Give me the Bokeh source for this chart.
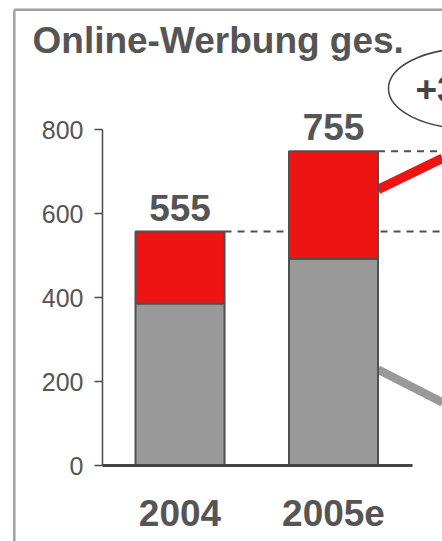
from bokeh.plotting import figure
from bokeh.models import Range1d, FixedTicker, ColumnDataSource
from bokeh.core.properties import value
from bokeh.embed import file_html
from bokeh.resources import INLINE

# ---- data -------------------------------------------------------------
categories = ["2004", "2005e"]
base_values = [386, 492]        # grey segment
growth_values = [171, 256]      # red segment
total_labels = ["555", "755"]
y_ticks = [0, 200, 400, 600, 800]
title_text = "Online-Werbung ges."
growth_text = "+36%"

# ---- layout constants -------------------------------------------------
W, H = 442, 541
LEFT, BOTTOM = 102, 76
FONT = "Liberation Sans"
DARK = "#555555"
RED = "#EE1414"
GREY = "#999999"
PX = 0.42   # pixels per data unit on the y scale

xs = list(range(len(categories)))
tops = [b + g for b, g in zip(base_values, growth_values)]
bar_w = 0.58

x_range = Range1d(-0.505, 1.71)
y_range = Range1d(0, (H - BOTTOM) / PX)

p = figure(width=W, height=H, x_range=x_range, y_range=y_range,
           output_backend="svg", toolbar_location=None,
           min_border_left=LEFT, min_border_right=0, min_border_top=0,
           min_border_bottom=BOTTOM)
p.background_fill_color = "white"
p.border_fill_color = "white"
p.outline_line_color = None
p.xgrid.visible = False
p.ygrid.visible = False

# frame around the panel (overlay level, so it is not clipped to the frame)
fx, fy = -1.0795, 1085
p.segment(x0=[fx, fx], y0=[-300, fy], x1=[fx, 5], y1=[fy, fy],
          line_color="#a0a0a0", line_width=2.5, level="overlay")

# title
p.text(x=[-0.961], y=[(H - BOTTOM - 40) / PX], text=[title_text],
       text_align="left", text_baseline="middle", text_font=value(FONT),
       text_font_style="bold", text_font_size="37px", text_color=DARK,
       level="overlay")

# dashed reference lines from bar tops
p.segment(x0=[xs[0] + bar_w / 2, xs[1] + bar_w / 2], y0=tops,
          x1=[x_range.end, x_range.end], y1=tops,
          line_color="#505050", line_width=2, line_dash="7 6")

# connector lines to the (cut-off) next panel
right_edge = xs[1] + bar_w / 2
p.segment(x0=[right_edge], y0=[base_values[1] + growth_values[1] * 0.645],
          x1=[x_range.end], y1=[base_values[1] + growth_values[1] * 0.935],
          line_color=RED, line_width=9.5)
p.segment(x0=[right_edge], y0=[base_values[1] * 0.465],
          x1=[x_range.end], y1=[base_values[1] * 0.305],
          line_color=GREY, line_width=8.5)

label_y = [t + 24 / PX for t in tops]
src = ColumnDataSource(dict(x=xs, base=base_values, top=tops, lab=total_labels,
                            ly=label_y))
p.vbar(x="x", width=bar_w, bottom=0, top="base", source=src,
       fill_color=GREY, line_color="#505050", line_width=2)
p.vbar(x="x", width=bar_w, bottom="base", top="top", source=src,
       fill_color=RED, line_color="#505050", line_width=2)
p.text(x="x", y="ly", text="lab", source=src,
       text_align="center", text_baseline="middle",
       text_font=value(FONT), text_font_style="bold", text_font_size="37px",
       text_color=DARK)

# growth bubble
p.ellipse(x=[1.879], y=[897.6], width=[1.042], height=[190.5],
          fill_color=None, line_color="#444444", line_width=1.5)
p.text(x=[1.534], y=[895], text=[growth_text], text_align="left",
       text_baseline="middle", text_font=value(FONT), text_font_style="bold",
       text_font_size="37px", text_color="#444444")

# axes
xa = p.xaxis[0]
xa.ticker = FixedTicker(ticks=xs)
xa.major_label_overrides = {x: c for x, c in zip(xs, categories)}
xa.bounds = (x_range.start, 1.515)
xa.axis_line_width = 3
xa.axis_line_color = "#444444"
xa.major_tick_line_color = None
xa.minor_tick_line_color = None
xa.major_label_text_font = FONT
xa.major_label_text_font_style = "bold"
xa.major_label_text_font_size = "37px"
xa.major_label_text_color = DARK
xa.major_label_standoff = 28

ya = p.yaxis[0]
ya.ticker = FixedTicker(ticks=y_ticks)
ya.bounds = (0, 800)
ya.axis_line_width = 1.5
ya.axis_line_color = "#4a4a4a"
ya.major_tick_line_color = "#4a4a4a"
ya.major_tick_line_width = 1.5
ya.major_tick_out = 8
ya.major_tick_in = 0
ya.minor_tick_line_color = None
ya.major_label_text_font = FONT
ya.major_label_text_font_size = "25px"
ya.major_label_text_color = DARK
ya.major_label_standoff = 11

open("out.html", "w").write(file_html(p, INLINE))
